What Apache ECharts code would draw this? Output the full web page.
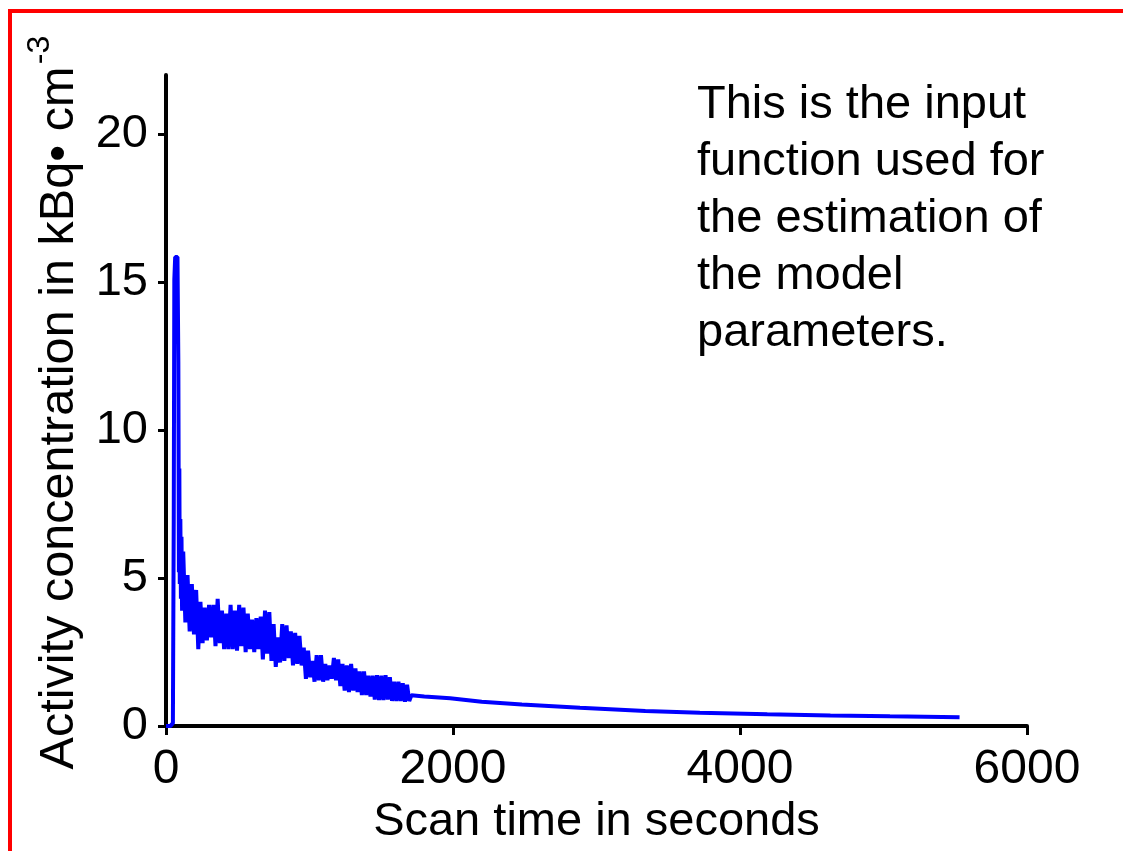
<!DOCTYPE html>
<html>
<head>
<meta charset="utf-8">
<script src="https://cdn.jsdelivr.net/npm/echarts@6/dist/echarts.min.js"></script>
<style>
html,body{margin:0;padding:0;background:#fff;}
#chart{width:1123px;height:851px;}
</style>
</head>
<body>
<div id="chart"></div>
<script>
// Scan time (s)
const scanTime = [
  0, 15, 30, 40, 48, 54, 58, 64, 72, 80, 86, 90, 93, 96, 100, 104, 108, 112,
  120, 135, 150, 165, 180, 195, 210, 225, 240, 255, 270, 285, 300, 315, 330, 345,
  360, 375, 390, 405, 420, 435, 450, 465, 480, 495, 510, 525, 540, 555, 570, 585,
  600, 615, 630, 645, 660, 675, 690, 705, 720, 735, 750, 765, 780, 795, 810, 825,
  840, 855, 870, 885, 900, 915, 930, 945, 960, 975, 990, 1005, 1020, 1035, 1050, 1065,
  1080, 1095, 1110, 1125, 1140, 1155, 1170, 1185, 1200, 1215, 1230, 1245, 1260, 1275, 1290, 1305,
  1320, 1335, 1350, 1365, 1380, 1395, 1410, 1425, 1440, 1455, 1470, 1485, 1500, 1515, 1530, 1545,
  1560, 1575, 1590, 1605, 1620, 1635, 1650, 1665, 1680, 1695,
  1710, 1800, 1980, 2200, 2480, 2885, 3340, 3720, 4190, 4630, 5045, 5530
];
// Activity concentration (kBq/cm^3)
const activity = [
  0, 0, 0, 0, 0.1, 7.0, 15.1, 15.85, 15.85, 15.85, 12.3, 5.2, 8.7, 4.8, 7.0, 4.3, 6.4, 3.9,
  5.9, 3.5, 5.1, 3.2, 4.8, 3.1, 4.6, 2.6, 4.2, 2.8, 4.0, 2.9, 4.1, 3.0, 4.1, 2.7,
  4.3, 2.8, 3.9, 2.6, 3.8, 2.6, 4.1, 2.6, 3.9, 2.55, 4.1, 2.7, 4.0, 2.5, 3.8, 2.6,
  3.6, 2.5, 3.65, 2.6, 3.7, 2.25, 3.9, 2.45, 3.85, 2.2, 3.45, 2.0, 3.0, 2.15, 3.45, 2.2,
  3.4, 2.3, 3.2, 2.05, 3.15, 2.1, 3.05, 2.05, 2.65, 1.6, 2.55, 1.65, 2.2, 1.5, 2.4, 1.55,
  2.4, 1.5, 2.1, 1.55, 2.05, 1.6, 2.3, 1.55, 2.25, 1.35, 2.1, 1.2, 2.05, 1.15, 2.1, 1.2,
  1.95, 1.15, 1.85, 1.05, 1.85, 1.05, 1.7, 1.0, 1.7, 0.9, 1.72, 0.88, 1.7, 0.88, 1.72, 0.9,
  1.65, 0.85, 1.5, 0.85, 1.5, 0.85, 1.45, 0.82, 1.4, 0.85,
  1.04, 1.0, 0.94, 0.82, 0.73, 0.62, 0.51, 0.45, 0.40, 0.36, 0.33, 0.30
];
const xTicks = [0, 2000, 4000, 6000];
const yTicks = [0, 5, 10, 15, 20];
const xTitle = 'Scan time in seconds';
const yTitle = 'Activity concentration in kBq\u2022 cm';
const yTitleSup = '-3';
const note = 'This is the input\nfunction used for\nthe estimation of\nthe model\nparameters.';

const FONT = 'Liberation Sans, Arial, Helvetica, sans-serif';
const chart = echarts.init(document.getElementById('chart'), null, {renderer: 'canvas'});
chart.setOption({
  backgroundColor: '#ffffff',
  animation: false,
  grid: {left: 166, right: 96, top: 75, bottom: 120, containLabel: false},
  xAxis: {
    type: 'value', min: 0, max: 6000, interval: 2000,
    name: xTitle, nameLocation: 'middle', nameGap: 66,
    nameTextStyle: {fontFamily: FONT, fontSize: 47, color: '#000'},
    axisLine: {show: true, onZero: false, lineStyle: {color: '#000', width: 4}},
    axisTick: {show: true, inside: false, length: 9, lineStyle: {color: '#000', width: 3}, customValues: xTicks},
    axisLabel: {fontFamily: FONT, fontSize: 48, color: '#000', margin: 20, customValues: xTicks,
      formatter: v => String(v)},
    splitLine: {show: false}
  },
  yAxis: {
    type: 'value', min: 0, max: 22, interval: 5,
    axisLine: {show: true, onZero: false, lineStyle: {color: '#000', width: 4}},
    axisTick: {show: true, inside: false, length: 8, lineStyle: {color: '#000', width: 3}, customValues: yTicks},
    axisLabel: {fontFamily: FONT, fontSize: 47, color: '#000', margin: 18, customValues: yTicks,
      formatter: v => String(v)},
    splitLine: {show: false}
  },
  series: [{
    type: 'line',
    data: scanTime.map((t, i) => [t, activity[i]]),
    showSymbol: false,
    symbol: 'none',
    smooth: false,
    lineStyle: {color: '#0000ff', width: 4, join: 'bevel', cap: 'butt'},
    z: 1
  }],
  graphic: [
    {type: 'line', shape: {x1: 8, y1: 11, x2: 1123, y2: 11}, style: {stroke: '#ff0000', lineWidth: 4}, silent: true},
    {type: 'line', shape: {x1: 10, y1: 9, x2: 10, y2: 851}, style: {stroke: '#ff0000', lineWidth: 4}, silent: true},
    {type: 'text', x: 697, y: 77, style: {text: note, fontFamily: FONT, fontSize: 47, lineHeight: 57, fill: '#000', align: 'left', verticalAlign: 'top'}},
    {type: 'text', x: 60, y: 418, rotation: Math.PI / 2, style: {text: yTitle, fontFamily: FONT, fontSize: 48.6, fill: '#000', align: 'center', verticalAlign: 'middle'}},
    {type: 'text', x: 40, y: 50, rotation: Math.PI / 2, style: {text: yTitleSup, fontFamily: FONT, fontSize: 32, fill: '#000', align: 'center', verticalAlign: 'middle'}}
  ]
});
</script>
</body>
</html>
